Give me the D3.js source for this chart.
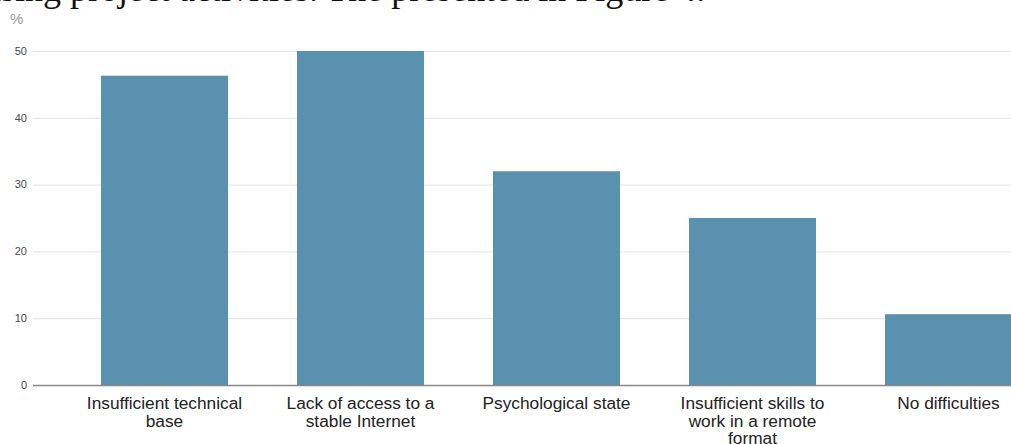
<!DOCTYPE html>
<html>
<head>
<meta charset="utf-8">
<script src="https://cdn.jsdelivr.net/npm/d3@7"></script>
<style>
  body { margin: 0; background: #fff; }
  svg { display: block; }
</style>
</head>
<body>
<div id="container"></div>
<script>
// categories (one array of lines per bar) and values in %
const categories = [
    ["Insufficient technical", "base"],
    ["Lack of access to a", "stable Internet"],
    ["Psychological state"],
    ["Insufficient skills to", "work in a remote", "format"],
    ["No difficulties"]
];
const values = [46.3, 50, 32, 25, 10.6];
const yTicks = [0, 10, 20, 30, 40, 50];

const width = 1011;
const height = 444;

const svg = d3.create("svg")
    .attr("width", width)
    .attr("height", height)
    .attr("viewBox", [0, 0, width, height]);

// bout de texte du document, coupé en haut de l'image
svg.append("text")
    .attr("x", -17)
    .attr("y", 0.5)
    .attr("font-family", "'Liberation Serif', 'Times New Roman', serif")
    .attr("font-size", 36)
    .attr("fill", "#111")
    .text("using project activities. The presented in Figure 4.");

const x = d3.scaleBand()
    .domain(d3.range(categories.length))
    .range([32, 1081])
    .padding(0.352);

const y = d3.scaleLinear()
    .domain([0, 50])
    .range([385, 51]);

// grille
svg.append("g")
    .selectAll("line")
    .data(yTicks.filter(d => d > 0))
    .join("line")
    .attr("x1", 33)
    .attr("x2", 1081)
    .attr("y1", d => y(d) + 0.5)
    .attr("y2", d => y(d) + 0.5)
    .attr("stroke", "#e4e4e4")
    .attr("stroke-width", 1);

// étiquettes de l'axe y
svg.append("g")
    .selectAll("text")
    .data(yTicks)
    .join("text")
    .attr("x", 27)
    .attr("y", d => y(d))
    .attr("dy", "0.35em")
    .attr("text-anchor", "end")
    .attr("font-family", "'Liberation Sans', Arial, sans-serif")
    .attr("font-size", 11)
    .attr("fill", "#4a4a4a")
    .text(d => d);

svg.append("text")
    .attr("x", 10)
    .attr("y", 24)
    .attr("font-family", "'Liberation Sans', Arial, sans-serif")
    .attr("font-size", 15)
    .attr("fill", "#999")
    .text("%");

// barres
svg.append("g")
    .selectAll("rect")
    .data(values)
    .join("rect")
    .attr("x", (d, i) => x(i))
    .attr("y", d => y(d))
    .attr("width", x.bandwidth())
    .attr("height", d => y(0) - y(d))
    .attr("fill", "#5a91ae");

// ligne de base
svg.append("line")
    .attr("x1", 33)
    .attr("x2", 1081)
    .attr("y1", y(0) + 0.5)
    .attr("y2", y(0) + 0.5)
    .attr("stroke", "#888")
    .attr("stroke-width", 1.3);

// étiquettes des catégories
const labels = svg.append("g")
    .selectAll("text")
    .data(categories)
    .join("text")
    .attr("text-anchor", "middle")
    .attr("font-family", "'Liberation Sans', Arial, sans-serif")
    .attr("font-size", 17.3)
    .attr("fill", "#222");

labels.selectAll("tspan")
    .data((d, i) => d.map(line => ({line, i})))
    .join("tspan")
    .attr("x", d => x(d.i) + x.bandwidth() / 2)
    .attr("y", (d, j) => 409 + j * 17.6)
    .text(d => d.line);

d3.select("#container").node().append(svg.node());
</script>
</body>
</html>
